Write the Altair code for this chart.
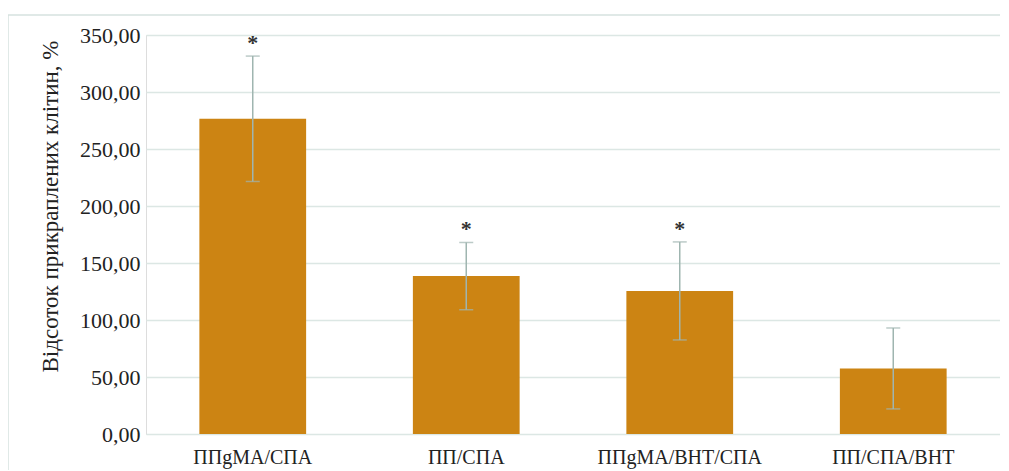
import altair as alt
import pandas as pd

categories = ["ППgMA/СПА", "ПП/СПА", "ППgMA/ВНТ/СПА", "ПП/СПА/ВНТ"]
values = [276.5, 138.5, 125.5, 57.5]
errors = [55.0, 29.5, 43.0, 35.5]
stars = ["*", "*", "*", ""]

df = pd.DataFrame({
    "cat": categories,
    "val": values,
    "lo": [v - e for v, e in zip(values, errors)],
    "hi": [v + e for v, e in zip(values, errors)],
    "star": stars,
})

W, H = 854, 399
FONT = "Times New Roman, Liberation Serif, serif"

x = alt.X("cat:N", sort=categories, title=None,
          scale=alt.Scale(paddingInner=0.5, paddingOuter=0.25),
          axis=alt.Axis(labelAngle=0, labelFont=FONT, labelFontSize=20,
                        labelColor="#222222", labelPadding=13, ticks=False,
                        domain=False, grid=False))
y_scale = alt.Scale(domain=[0, 350])

base = alt.Chart(df)

frame = base.mark_rect(fill=None, stroke="#d6e2df", strokeWidth=1.5).encode(
    x=alt.value(-138), x2=alt.value(870), y=alt.value(-20), y2=alt.value(470)
).transform_filter("datum.cat == 'ПП/СПА'")

bars = base.mark_bar(color="#cc8413").encode(
    x=x,
    y=alt.Y("val:Q", scale=y_scale, title="Відсоток прикраплених клітин, %",
            axis=alt.Axis(values=[0, 50, 100, 150, 200, 250, 300, 350],
                          labelExpr="replace(format(datum.value, '.2f'), '.', ',')",
                          labelFont=FONT, labelFontSize=22, labelColor="#222222",
                          labelPadding=6, ticks=False, domain=False,
                          gridColor="#dce7e4", gridWidth=1.5,
                          titleFont=FONT, titleFontSize=23, titleFontWeight="normal",
                          titleColor="#222222", titleX=-84, titleY=171)),
)

err = base.mark_errorbar(ticks=alt.MarkConfig(size=14, color="#9fb5b0"),
                         color="#9fb5b0", thickness=1.5).encode(
    x=alt.X("cat:N", sort=categories),
    y=alt.Y("lo:Q", scale=y_scale, title=""),
    y2="hi:Q",
)

txt = base.mark_text(font=FONT, fontSize=22, fontWeight="bold", color="#333333",
                     dy=-1, baseline="bottom").encode(
    x=alt.X("cat:N", sort=categories),
    y=alt.Y("hi:Q", scale=y_scale),
    text="star:N",
)

chart = alt.layer(frame, bars, err, txt).properties(
    width=W, height=H,
    autosize=alt.AutoSizeParams(type="none"),
    padding={"left": 138, "top": 27, "right": 0, "bottom": 36},
).configure_view(stroke=None).configure(background="white")

chart.save("out.html", embed_options={"renderer": "svg", "actions": False})
